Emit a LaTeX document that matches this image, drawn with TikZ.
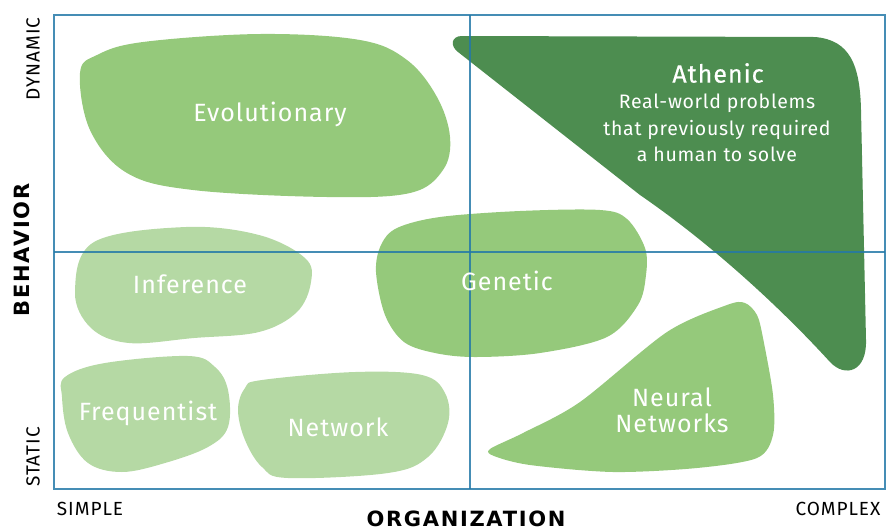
\documentclass[tikz,border=0pt]{standalone}
\usepackage{fontspec}
\setmainfont{Fira Sans}
\newfontfamily\axisf[LetterSpace=8]{DejaVu Sans}
\newfontfamily\blobf[LetterSpace=4]{Fira Sans}
\newfontfamily\subf[LetterSpace=3.5]{Fira Sans}
\newfontfamily\axlf[LetterSpace=5]{Fira Sans}
\newfontfamily\medf[FakeBold=0.6,LetterSpace=4]{Fira Sans}
\definecolor{gmid}{HTML}{95C97B}
\definecolor{glight}{HTML}{B5D9A4}
\definecolor{gdark}{HTML}{4D8D50}
\definecolor{frame}{HTML}{2479A8}
\tikzset{
  blobmid/.style={fill=gmid, draw=none},
  bloblight/.style={fill=glight, draw=none},
  blobdark/.style={fill=gdark, draw=none},
  lbl/.style={text=white, font=\blobf\fontsize{25}{26}\selectfont, inner sep=0pt, align=center},
  axlbl/.style={font=\axlf\fontsize{19}{20}\selectfont, inner sep=0pt},
  axtitle/.style={font=\axisf\bfseries\fontsize{21}{24}\selectfont, inner sep=0pt},
  frameline/.style={draw=frame, line width=1.2pt, opacity=0.85}
}
\begin{document}
\begin{tikzpicture}[x=1pt, y=-1pt]
\useasboundingbox (0,0) rectangle (886,531);
% Evolutionary
\fill[blobmid] plot[smooth cycle, tension=0.6] coordinates {
 (80,73) (97,55) (143,42) (260,34) (360,40) (407,60) (437,97) (450,137)
 (443,170) (410,193) (327,197) (193,190) (127,173) (90,130)};
% Inference
\fill[bloblight] plot[smooth cycle, tension=0.6] coordinates {
 (75,292) (94,242) (186,227) (259,235) (305,258) (311,282) (297,312)
 (259,332) (194,338) (129,343) (91,328)};
% Genetic
\fill[blobmid] plot[smooth cycle, tension=0.55] coordinates {
 (397,228) (440,217) (520,211) (600,210) (627,219) (645,248) (646,275)
 (638,305) (607,337) (540,353) (475,357) (435,353) (404,342) (385,315)
 (376,272) (381,245)};
% Frequentist
\fill[bloblight] plot[smooth cycle, tension=0.6] coordinates {
 (65,377) (105,363) (188,356) (215,367) (228,390) (228,427) (208,447)
 (165,463) (122,472) (88,463) (68,433) (62,397)};
% Network
\fill[bloblight] plot[smooth cycle, tension=0.6] coordinates {
 (262,380) (355,372) (422,375) (445,393) (448,423) (428,457) (388,473)
 (288,478) (262,467) (245,440) (238,410) (245,388)};
% Neural Networks
\fill[blobmid] plot[smooth cycle, tension=0.5] coordinates {
 (490,449) (523,433) (580,402) (667,332) (727,305) (745,303) (757,315)
 (763,338) (773,395) (773,435) (757,458) (697,468) (613,472) (530,465)
 (494,456)};
% Athenic
\fill[blobdark] (462,36) -- (815,37) .. controls (850,40) and (860,65) .. (861,110)
 -- (866,340) .. controls (867,372) and (845,378) .. (830,362)
 .. controls (790,318) and (720,250) .. (640,195)
 -- (458,52) .. controls (450,46) and (451,36) .. (462,36) -- cycle;
% frame and axes
\coordinate (tl) at (54,15);
\coordinate (br) at (885,489);
\coordinate (vt) at (470,15);
\coordinate (vb) at (470,489);
\coordinate (hl) at (54,252);
\coordinate (hr) at (885,252);
\draw[frameline] (tl) rectangle (br);
\draw[frameline] (vt) -- (vb);
\draw[frameline] (hl) -- (hr);
% labels
\node[lbl] (evo) at (270,114) {Evolutionary};
\node[lbl] (inf) at (190,284) {Inference};
\node[lbl] (gen) at (507,281) {Genetic};
\node[lbl] (freq) at (148,413) {Frequentist};
\node[lbl] (net) at (338,427) {Network};
\node[lbl] (nn) at (672,410) {Neural\\Networks};
\node[lbl, font=\medf\fontsize{25}{26}\selectfont] (ath) at (718,73) {Athenic};
\node[text=white, font=\subf\fontsize{19.5}{26.5}\selectfont, align=center, inner sep=0pt] (athsub) at (717,128) {Real-world problems\\that previously required\\a human to solve};
% axis labels
\node[axlbl, rotate=90] (dyn) at (33,59) {DYNAMIC};
\node[axlbl, rotate=90] (sta) at (33,457) {STATIC};
\node[axlbl] (sim) at (90,509) {SIMPLE};
\node[axlbl] (com) at (838,509) {COMPLEX};
\node[axtitle] (org) at (466,519) {ORGANIZATION};
\node[axtitle, rotate=90] (beh) at (22,250) {BEHAVIOR};
\end{tikzpicture}
\end{document}
